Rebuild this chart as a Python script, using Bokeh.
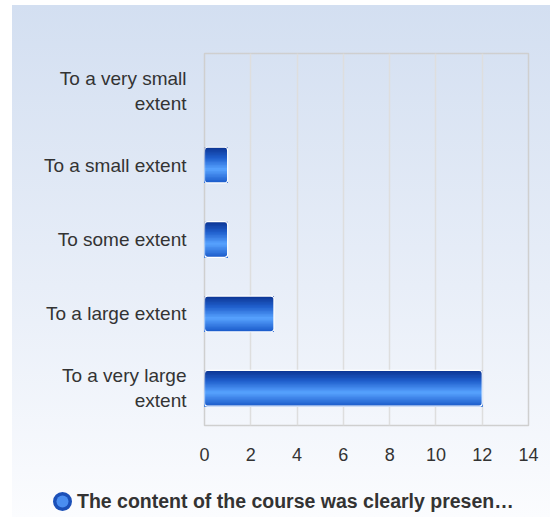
import numpy as np
from bokeh.plotting import figure
from bokeh.models import (FactorRange, Range1d, FixedTicker, ColumnDataSource, Legend,
                          LegendItem, CDSView, BooleanFilter, HBar)
from bokeh.transform import dodge
from bokeh.embed import file_html
from bokeh.resources import INLINE

# ---- data ----
categories = ["To a very small\nextent", "To a small extent", "To some extent",
              "To a large extent", "To a very large\nextent"]
counts = [0, 1, 1, 3, 12]
x_ticks = [0, 2, 4, 6, 8, 10, 12, 14]
series_name = "The content of the course was clearly presen\u2026"

src = ColumnDataSource(dict(cat=categories, count=counts))
view = CDSView(filter=BooleanFilter([c > 0 for c in counts]))

p = figure(width=538, height=465,
           y_range=FactorRange(factors=categories[::-1]),
           x_range=Range1d(0, 14),
           output_backend="svg", toolbar_location=None,
           min_border_left=192, min_border_right=22,
           min_border_top=48, min_border_bottom=45,
           margin=(5, 0, 0, 12),
           styles={"background": "linear-gradient(to bottom, #d3dff1 0%, #e8eef8 60.5%, #f7f9fd 100%)"})
p.background_fill_alpha = 0
p.border_fill_alpha = 0
p.outline_line_color = "#cfcfcf"
p.outline_line_width = 1.5

# gradient bars via nested strips (each covers from its top to the bar bottom)
stops = [(0.0, (12, 52, 145)), (0.3, (32, 95, 205)), (0.62, (88, 163, 255)), (1.0, (25, 88, 200))]
def grad(t):
    for (t0, c0), (t1, c1) in zip(stops[:-1], stops[1:]):
        if t0 <= t <= t1:
            f = (t - t0) / (t1 - t0)
            return "#%02x%02x%02x" % tuple(int(round(a + (b - a) * f)) for a, b in zip(c0, c1))
    return "#%02x%02x%02x" % stops[-1][1]

h = 0.48
n = 24
for i in range(n):
    top = h / 2 - i * h / n
    hh = top + h / 2
    p.hbar(y=dodge("cat", top - hh / 2, range=p.y_range), left=0, right="count",
           height=hh, source=src, view=view,
           fill_color=grad((i + 0.5) / n), line_color=None)

br = {"border_radius": 3} if "border_radius" in HBar.properties() else {}
p.hbar(y="cat", left=0, right="count", height=h, source=src, view=view,
       fill_color=None, line_color="white", line_width=1.2, **br)

# axes
p.xaxis.ticker = FixedTicker(ticks=x_ticks)
for ax in (p.xaxis[0], p.yaxis[0]):
    ax.axis_line_color = None
    ax.major_tick_line_color = None
    ax.minor_tick_line_color = None
    ax.major_tick_out = 0
    ax.major_tick_in = 0
    ax.major_label_text_font = "Liberation Sans"
    ax.major_label_text_color = "#333333"
p.xaxis.major_label_text_font_size = "18px"
p.yaxis.major_label_text_font_size = "19px"
p.xaxis.major_label_standoff = 22
p.yaxis.major_label_standoff = 18
p.yaxis.major_label_text_line_height = 1.2

p.xgrid.grid_line_color = "#dedede"
p.xgrid.grid_line_width = 1.5
p.ygrid.grid_line_color = None

# legend strip below the chart (separate root so its frame is not aligned to p's)
p2 = figure(width=538, height=47, x_range=Range1d(0, 1), y_range=Range1d(0, 1),
            output_backend="svg", toolbar_location=None,
            x_axis_location=None, y_axis_location=None,
            min_border_left=0, min_border_right=0, min_border_top=0, min_border_bottom=0,
            margin=(0, 0, 0, 12),
            styles={"background": "linear-gradient(to bottom, #f7f9fd 0%, #fbfcfe 100%)"})
p2.background_fill_alpha = 0
p2.border_fill_alpha = 0
p2.outline_line_color = None
p2.grid.grid_line_color = None
lsrc = ColumnDataSource(dict(x=np.array([np.nan]), y=np.array([np.nan])))
r_outer = p2.scatter(x="x", y="y", source=lsrc, size=12, marker="circle",
                     fill_color="#2a68d4", line_color="#1b50b8", line_width=7)
r_inner = p2.scatter(x="x", y="y", source=lsrc, size=11, marker="circle",
                     fill_color="#4a8ef0", line_color=None)
legend = Legend(items=[LegendItem(label=series_name, renderers=[r_outer, r_inner])],
                location=(35, -4), orientation="horizontal",
                background_fill_alpha=0, border_line_color=None,
                glyph_width=30, glyph_height=40, label_standoff=0, padding=0, margin=0,
                label_text_font="Liberation Sans", label_text_font_style="bold",
                label_text_font_size="19.5px", label_text_color="#333333")
p2.add_layout(legend, "center")

open("out.html", "w").write(file_html([p, p2], INLINE))
